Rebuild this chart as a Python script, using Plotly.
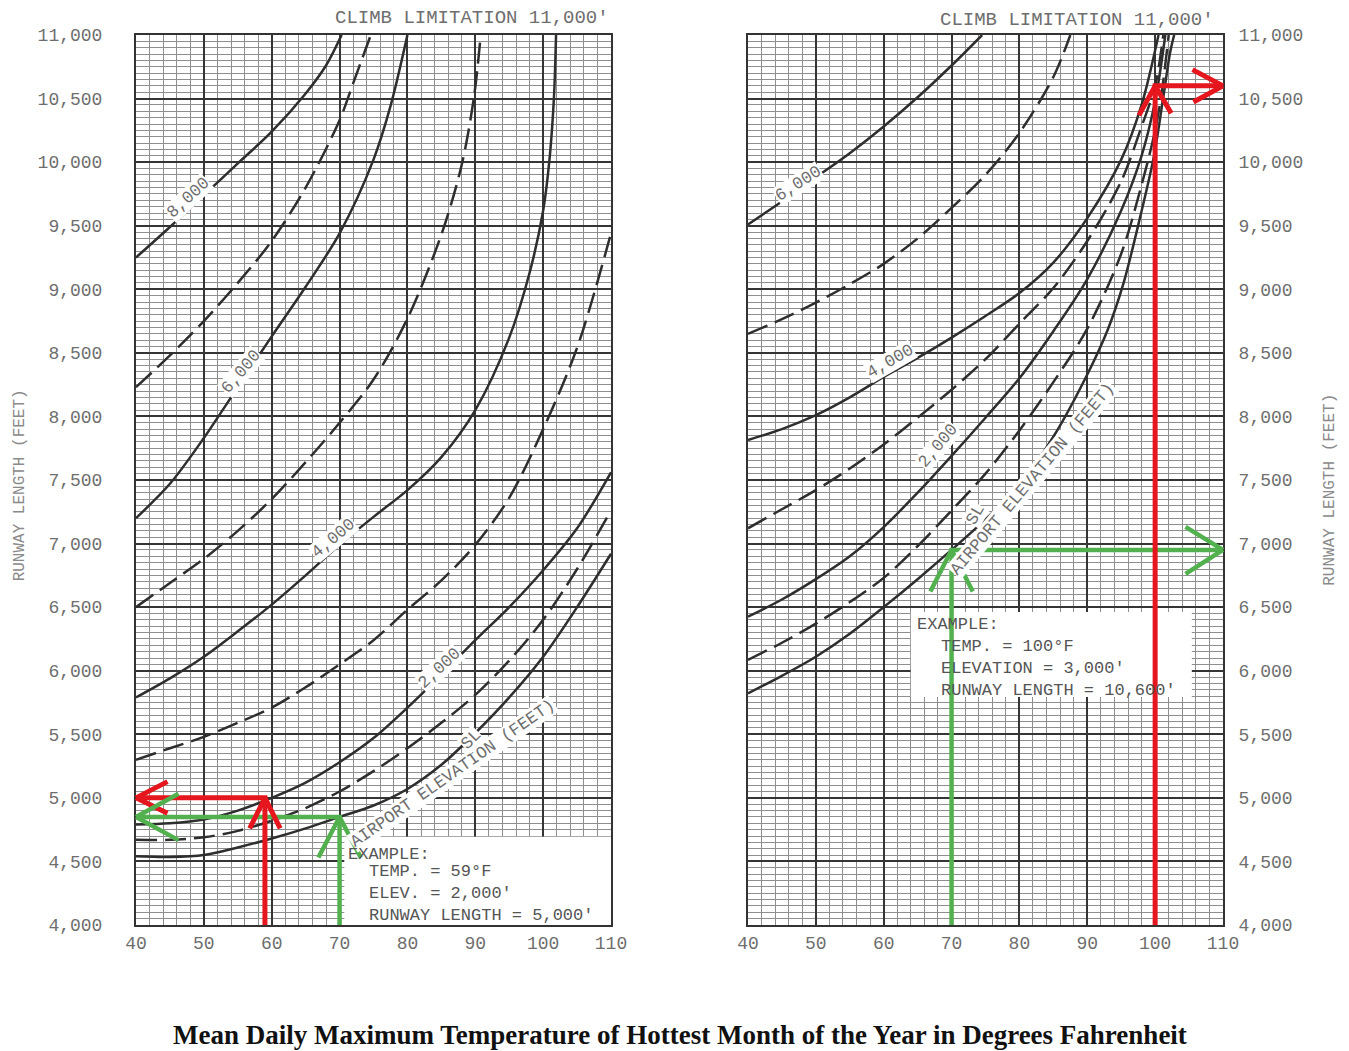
import numpy as np
import plotly.graph_objects as go

# ---------------------------------------------------------------- axes / ticks
TEMP_RANGE = [40, 110]
RUNWAY_RANGE = [4000, 11000]
TEMP_TICKS = [40, 50, 60, 70, 80, 90, 100, 110]
TEMP_TICK_TEXT = ["40", "50", "60", "70", "80", "90", "100", "110"]
RUNWAY_TICKS = [4000, 4500, 5000, 5500, 6000, 6500, 7000, 7500,
                8000, 8500, 9000, 9500, 10000, 10500, 11000]
RUNWAY_TICK_TEXT = ["4,000", "4,500", "5,000", "5,500", "6,000", "6,500", "7,000", "7,500",
                    "8,000", "8,500", "9,000", "9,500", "10,000", "10,500", "11,000"]

# ---------------------------------------------------------------- left chart curves
# runway length (ft) against mean daily max temperature (F), one array pair per airport elevation
L_SL_T = [40, 45, 50, 55, 60, 65, 70, 75, 80, 85, 90, 95, 100, 105, 110]
L_SL = [4540, 4535, 4550, 4610, 4680, 4760, 4850, 4940, 5070, 5260, 5510, 5790, 6110, 6500, 6920]

L_1000_T = [40, 45, 50, 55, 60, 65, 70, 75, 80, 85, 90, 95, 100, 105, 110]
L_1000 = [4670, 4670, 4690, 4740, 4820, 4920, 5050, 5210, 5390, 5590, 5810, 6080, 6400, 6800, 7260]

L_2000_T = [40, 45, 50, 55, 60, 65, 70, 75, 80, 85, 90, 95, 100, 105, 110]
L_2000 = [4790, 4800, 4830, 4900, 5000, 5120, 5280, 5470, 5710, 5970, 6240, 6500, 6790, 7120, 7560]

L_3000_T = [40, 45, 50, 55, 60, 65, 70, 75, 80, 85, 90, 95, 100, 105, 110]
L_3000 = [5300, 5390, 5480, 5590, 5710, 5870, 6050, 6240, 6480, 6710, 6990, 7360, 7900, 8540, 9440]

L_4000_T = [40, 45, 50, 55, 60, 65, 70, 75, 80, 85, 90, 95, 98, 100, 101, 101.6, 101.9]
L_4000 = [5790, 5940, 6110, 6310, 6520, 6750, 6990, 7210, 7420, 7680, 8050, 8620, 9130, 9620, 10060, 10520, 11000]

L_5000_T = [40, 45, 50, 55, 60, 65, 70, 75, 80, 85, 88, 89.8, 90.8]
L_5000 = [6500, 6690, 6880, 7100, 7350, 7640, 7950, 8290, 8770, 9430, 9980, 10510, 11000]

L_6000_T = [40, 45, 50, 55, 60, 65, 70, 75, 77.5, 80]
L_6000 = [7200, 7470, 7830, 8230, 8630, 9020, 9440, 10020, 10440, 11000]

L_7000_T = [40, 45, 50, 55, 60, 65, 70, 72, 74.6]
L_7000 = [8230, 8480, 8750, 9050, 9380, 9800, 10330, 10620, 11000]

L_8000_T = [40, 45, 50, 55, 60, 65, 68, 70.3]
L_8000 = [9250, 9490, 9740, 9990, 10240, 10540, 10760, 11000]

# ---------------------------------------------------------------- right chart curves
R_SL_T = [40, 45, 50, 55, 60, 65, 70, 75, 80, 85, 90, 93, 95.3, 97.8, 99.8, 101.2, 102.2, 102.8]
R_SL = [5822, 5960, 6110, 6290, 6500, 6720, 6950, 7190, 7460, 7840, 8330, 8680, 9040, 9570,
        10040, 10510, 10860, 11000]

R_1000_T = [40, 45, 50, 55, 60, 65, 70, 75, 80, 85, 90, 95, 98, 100, 101, 102]
R_1000 = [6085, 6220, 6370, 6540, 6730, 6980, 7260, 7550, 7890, 8270, 8690, 9280, 9820, 10250, 10560, 11000]

R_2000_T = [40, 45, 50, 55, 60, 65, 70, 75, 80, 85, 90, 95, 98, 100, 101.5]
R_2000 = [6425, 6560, 6720, 6900, 7130, 7400, 7690, 7990, 8300, 8670, 9080, 9620, 10050, 10480, 11000]

R_3000_T = [40, 45, 50, 55, 60, 65, 70, 75, 80, 85, 90, 95, 98, 100, 101.2]
R_3000 = [7120, 7270, 7420, 7590, 7780, 7990, 8210, 8450, 8730, 9010, 9380, 9850, 10280, 10600, 11000]

R_4000_T = [40, 45, 50, 55, 60, 65, 70, 75, 80, 85, 90, 95, 98, 100.5]
R_4000 = [7815, 7900, 8010, 8150, 8310, 8460, 8620, 8790, 8970, 9210, 9560, 10020, 10450, 11000]

R_5000_T = [40, 45, 50, 55, 60, 65, 70, 75, 80, 85, 87.5]
R_5000 = [8650, 8765, 8895, 9040, 9200, 9400, 9640, 9900, 10230, 10670, 11000]

R_6000_T = [40, 45, 50, 55, 60, 65, 70, 74.5]
R_6000 = [9510, 9690, 9880, 10070, 10280, 10510, 10760, 11000]

# ---------------------------------------------------------------- worked examples
EX_LEFT_TEMP = 59
EX_LEFT_ELEV = 2000
EX_LEFT_RUNWAY = 5000
EX_RIGHT_TEMP = 100
EX_RIGHT_ELEV = 3000
EX_RIGHT_RUNWAY = 10600
GUIDE_TEMP = 70          # green guide: sea-level curve at 70 F on both charts

# elevation labels: (text, temperature, runway length at the label centre, rotation)
L_LABELS = [("AIRPORT ELEVATION (FEET)", 86.7, 5195, -35),
            ("8,000", 47.8, 9720, -43),
            ("6,000", 55.6, 8350, -50),
            ("4,000", 69.1, 7040, -40),
            ("2,000", 84.7, 6019, -43),
            ("SL", 89.4, 5460, -45)]
R_LABELS = [("AIRPORT ELEVATION (FEET)", 82.0, 7510, -50),
            ("6,000", 47.5, 9830, -33),
            ("4,000", 61.0, 8430, -30),
            ("2,000", 68.1, 7768, -50),
            ("SL", 73.6, 7225, -60)]

# ---------------------------------------------------------------- styling
CURVE_COLOR = "#2e2e2e"
TEXT_COLOR = "#6e6e6e"
RED = "#e5161d"
GREEN = "#52b14e"
MONO = "Liberation Mono"
DASH = "21px,8px"

fig = go.Figure()

left_curves = [(L_SL_T, L_SL, False), (L_1000_T, L_1000, True), (L_2000_T, L_2000, False),
               (L_3000_T, L_3000, True), (L_4000_T, L_4000, False), (L_5000_T, L_5000, True),
               (L_6000_T, L_6000, False), (L_7000_T, L_7000, True), (L_8000_T, L_8000, False)]
right_curves = [(R_SL_T, R_SL, False), (R_1000_T, R_1000, True), (R_2000_T, R_2000, False),
                (R_3000_T, R_3000, True), (R_4000_T, R_4000, False), (R_5000_T, R_5000, True),
                (R_6000_T, R_6000, False)]

for curves, xa, ya in [(left_curves, "x", "y"), (right_curves, "x2", "y2")]:
    for temps, lengths, dashed in curves:
        fig.add_trace(go.Scatter(
            x=temps, y=lengths, mode="lines", xaxis=xa, yaxis=ya, hoverinfo="skip",
            line=dict(color=CURVE_COLOR, width=2.5, shape="spline", smoothing=0.9,
                      dash=DASH if dashed else "solid")))

# guide paths of the worked examples
green_left_len = float(np.interp(GUIDE_TEMP, L_SL_T, L_SL))
green_right_len = float(np.interp(GUIDE_TEMP, R_SL_T, R_SL))

guides = [
    ([GUIDE_TEMP, GUIDE_TEMP, TEMP_RANGE[0]], [RUNWAY_RANGE[0], green_left_len, green_left_len], GREEN, 4.5, "x", "y"),
    ([EX_LEFT_TEMP, EX_LEFT_TEMP, TEMP_RANGE[0]], [RUNWAY_RANGE[0], EX_LEFT_RUNWAY, EX_LEFT_RUNWAY], RED, 5, "x", "y"),
    ([GUIDE_TEMP, GUIDE_TEMP, TEMP_RANGE[1]], [RUNWAY_RANGE[0], green_right_len, green_right_len], GREEN, 4.5, "x2", "y2"),
    ([EX_RIGHT_TEMP, EX_RIGHT_TEMP, TEMP_RANGE[1]], [RUNWAY_RANGE[0], EX_RIGHT_RUNWAY, EX_RIGHT_RUNWAY], RED, 5, "x2", "y2"),
]
for xs, ys, color, w, xa, ya in guides:
    fig.add_trace(go.Scatter(x=xs, y=ys, mode="lines", xaxis=xa, yaxis=ya, hoverinfo="skip",
                             line=dict(color=color, width=w)))

annotations = []


def chevron(xref, yref, x, y, arms, color, width):
    """Open arrow head drawn as two strokes meeting at (x, y); arms are pixel offsets."""
    for dx, dy in arms:
        annotations.append(dict(x=x, y=y, xref=xref, yref=yref, ax=dx, ay=dy, text="",
                                showarrow=True, arrowhead=0, arrowwidth=width,
                                arrowcolor=color, standoff=0, startstandoff=0))


# arrow heads: up at the turning point, then along the horizontal leg
chevron("x", "y", EX_LEFT_TEMP, EX_LEFT_RUNWAY, [(-16, 32), (16, 32)], RED, 5)
chevron("x", "y", TEMP_RANGE[0], EX_LEFT_RUNWAY, [(33, -17), (33, 16)], RED, 5)
chevron("x", "y", GUIDE_TEMP, green_left_len, [(-22, 42), (22, 42)], GREEN, 4.5)
chevron("x", "y", TEMP_RANGE[0], green_left_len, [(44, -24), (44, 24)], GREEN, 4.5)
chevron("x2", "y2", EX_RIGHT_TEMP, EX_RIGHT_RUNWAY, [(-17, 31), (17, 29)], RED, 5)
chevron("x2", "y2", TEMP_RANGE[1], EX_RIGHT_RUNWAY, [(-32, -17), (-31, 17)], RED, 5)
chevron("x2", "y2", GUIDE_TEMP, green_right_len, [(-22, 43), (22, 43)], GREEN, 4.5)
chevron("x2", "y2", TEMP_RANGE[1], green_right_len, [(-39, -24), (-39, 25)], GREEN, 4.5)

label_font = dict(family=MONO, size=17, color=TEXT_COLOR)
for labels, xref, yref in [(L_LABELS, "x", "y"), (R_LABELS, "x2", "y2")]:
    for text, t, rl, ang in labels:
        annotations.append(dict(x=t, y=rl, xref=xref, yref=yref, text=text, showarrow=False,
                                textangle=ang, bgcolor="white", borderpad=0,
                                xanchor="center", yanchor="middle", font=label_font))

# worked-example text blocks
ex_font = dict(family=MONO, size=17, color="#555555")
annotations += [
    dict(x=70.9, y=4551, xref="x", yref="y", text="EXAMPLE:", showarrow=False,
         xanchor="left", yanchor="middle", font=ex_font),
    dict(x=74.1, y=4244, xref="x", yref="y", showarrow=False, xanchor="left", yanchor="middle",
         align="left",
         text=f"TEMP. = {EX_LEFT_TEMP}°F<br>ELEV. = {EX_LEFT_ELEV:,}'<br>RUNWAY LENGTH = {EX_LEFT_RUNWAY:,}'",
         font=ex_font),
    dict(x=64.6, y=6360, xref="x2", yref="y2", text="EXAMPLE:", showarrow=False,
         xanchor="left", yanchor="middle", font=ex_font),
    dict(x=68.1, y=6021, xref="x2", yref="y2", showarrow=False, xanchor="left", yanchor="middle",
         align="left",
         text=f"TEMP. = {EX_RIGHT_TEMP}°F<br>ELEVATION = {EX_RIGHT_ELEV:,}'<br>RUNWAY LENGTH = {EX_RIGHT_RUNWAY:,}'",
         font=ex_font),
]

# titles around the charts (plot area spans 136..1223 px across, 35..925 px down)
annotations += [
    dict(x=0.437, y=1.019, xref="paper", yref="paper", text="CLIMB LIMITATION 11,000'",
         showarrow=False, xanchor="right", yanchor="middle",
         font=dict(family=MONO, size=19, color=TEXT_COLOR)),
    dict(x=0.9936, y=1.017, xref="paper", yref="paper", text="CLIMB LIMITATION 11,000'",
         showarrow=False, xanchor="right", yanchor="middle",
         font=dict(family=MONO, size=19, color=TEXT_COLOR)),
    dict(x=-0.1067, y=0.494, xref="paper", yref="paper", text="RUNWAY LENGTH (FEET)",
         showarrow=False, textangle=-90, xanchor="center", yanchor="middle",
         font=dict(family=MONO, size=16, color="#8a8a8a")),
    dict(x=1.0984, y=0.489, xref="paper", yref="paper", text="RUNWAY LENGTH (FEET)",
         showarrow=False, textangle=-90, xanchor="center", yanchor="middle",
         font=dict(family=MONO, size=16, color="#8a8a8a")),
    dict(x=0.5005, y=-0.1236, xref="paper", yref="paper",
         text="<b>Mean Daily Maximum Temperature of Hottest Month of the Year in Degrees Fahrenheit</b>",
         showarrow=False, xanchor="center", yanchor="middle",
         font=dict(family="Liberation Serif", size=27, color="#111111")),
]

# white panels behind the example text (above the grid, under the guide lines)
shapes = [
    dict(type="rect", xref="x", yref="y", x0=70.7, x1=110, y0=4000, y1=4695,
         fillcolor="white", line=dict(width=0), layer="between"),
    dict(type="rect", xref="x2", yref="y2", x0=64.0, x1=105.4, y0=5793, y1=6462,
         fillcolor="white", line=dict(width=0), layer="between"),
]

tick_font = dict(family=MONO, size=18, color=TEXT_COLOR)
x_common = dict(range=TEMP_RANGE, tickmode="array", tickvals=TEMP_TICKS, ticktext=TEMP_TICK_TEXT,
                showgrid=True, gridcolor="#353535", gridwidth=2, zeroline=False,
                minor=dict(tickmode="linear", tick0=40, dtick=2, showgrid=True,
                           gridcolor="#8e8e8e", gridwidth=1),
                showline=True, mirror=True, linecolor="#333333", linewidth=2,
                ticks="", tickfont=tick_font, fixedrange=True)
y_common = dict(range=RUNWAY_RANGE, tickmode="array", tickvals=RUNWAY_TICKS, ticktext=RUNWAY_TICK_TEXT,
                showgrid=True, gridcolor="#353535", gridwidth=2, zeroline=False,
                minor=dict(tickmode="linear", tick0=4000, dtick=50, showgrid=True,
                           gridcolor="#8e8e8e", gridwidth=1),
                showline=True, mirror=True, linecolor="#333333", linewidth=2,
                ticks="", tickfont=tick_font, fixedrange=True)

fig.update_layout(
    width=1349, height=1051,
    margin=dict(l=136, r=126, t=35, b=126),
    paper_bgcolor="white", plot_bgcolor="white", showlegend=False,
    xaxis=dict(domain=[0, 0.437], anchor="y", **x_common),
    yaxis=dict(domain=[0, 1], anchor="x", ticklabelstandoff=28, **y_common),
    xaxis2=dict(domain=[0.563, 1.0], anchor="y2", **x_common),
    yaxis2=dict(domain=[0, 1], anchor="x2", side="right", ticklabelstandoff=10, **y_common),
    annotations=annotations,
    shapes=shapes,
)

fig.write_html("out.html")
